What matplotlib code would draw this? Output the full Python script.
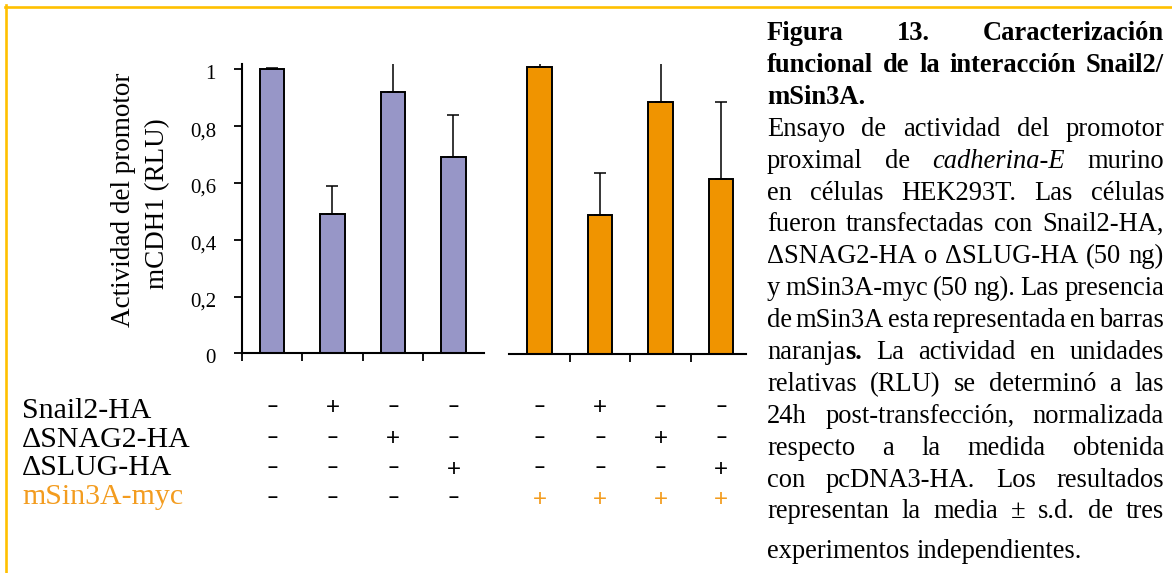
import numpy as np
import matplotlib
matplotlib.use("Agg")
import matplotlib.pyplot as plt
import matplotlib.transforms as mtransforms
from matplotlib.lines import Line2D
from matplotlib.font_manager import FontProperties
from matplotlib.textpath import TextPath

# ---- data ----
rlu_control = [1.0, 0.49, 0.92, 0.69]
err_control = [0.003, 0.10, 0.13, 0.15]
rlu_msin3a = [1.01, 0.49, 0.89, 0.617]
err_msin3a = [0.03, 0.15, 0.15, 0.272]

row_labels = ["Snail2-HA", "\u0394SNAG2-HA", "\u0394SLUG-HA", "mSin3A-myc"]
# one row per construct, 8 columns (4 without / 4 with mSin3A)
signs = [
    "-+--" + "-+--",
    "--+-" + "--+-",
    "---+" + "---+",
    "----" + "++++",
]
yticks = [0, 0.2, 0.4, 0.6, 0.8, 1]
ytick_labels = ["0", "0,2", "0,4", "0,6", "0,8", "1"]
ylabel_lines = ["Actividad del promotor", "mCDH1 (RLU)"]

caption_bold = [
    "Figura 13. Caracterización",
    "funcional de la interacción Snail2/",
    "mSin3A.",
]
# _x_ = italic, #x# = bold
caption_body = [
    "Ensayo de actividad del promotor",
    "proximal de _cadherina-E_ murino",
    "en células HEK293T. Las células",
    "fueron transfectadas con Snail2-HA,",
    "\u0394SNAG2-HA o \u0394SLUG-HA (50 ng)",
    "y mSin3A-myc (50 ng). Las presencia",
    "de mSin3A esta representada en barras",
    "naranja#s.# La actividad en unidades",
    "relativas (RLU) se determinó a las",
    "24h post-transfección, normalizada",
    "respecto a la medida obtenida",
    "con pcDNA3-HA. Los resultados",
    "representan la media ± s.d. de tres",
    "experimentos independientes.",
]

W, H = 1172, 573
LAVENDER = "#9796C7"
ORANGE = "#F09400"
TXT_ORANGE = "#F39C1F"
GOLD = "#FFC000"
SERIF = "Liberation Serif"
SANS = "Liberation Sans"


def px_rect(x0, y0, x1, y1):
    return [x0 / W, 1 - y1 / H, (x1 - x0) / W, (y1 - y0) / H]


fig = plt.figure(figsize=(W / 100, H / 100), dpi=100)

px_per_unit = 284.0
ax1 = fig.add_axes(px_rect(241.7, 64, 483.7, 353.3))
ax2 = fig.add_axes(px_rect(509.3, 64, 746, 354.3))
ax1.set_xlim(0, 4)
ax1.set_ylim(0, (353.3 - 64) / px_per_unit)
ax2.set_xlim(0, (746 - 509.3) / 60.5)
ax2.set_ylim(0, (354.3 - 64) / px_per_unit)

pos = np.arange(4) + 0.5
for ax, vals, errs, col in [(ax1, rlu_control, err_control, LAVENDER),
                            (ax2, rlu_msin3a, err_msin3a, ORANGE)]:
    ax.bar(pos, vals, width=0.41, color=col, edgecolor="black",
           linewidth=1.4, zorder=2)
    ax.errorbar(pos, vals, yerr=[np.zeros(4), errs], fmt="none",
                ecolor="black", elinewidth=1.1, capsize=4.4, capthick=1.1,
                zorder=3)
    for s in ["top", "right"]:
        ax.spines[s].set_visible(False)
    ax.spines["bottom"].set_linewidth(1.5)
    ax.spines["left"].set_linewidth(1.5)
    ax.tick_params(axis="both", direction="out", length=5.5, width=1.3,
                   color="black")

ax1.set_xticks([0, 1, 2, 3])
ax1.set_xticklabels([])
ax1.set_yticks(yticks)
ax1.set_yticklabels(ytick_labels, fontfamily=SERIF, fontsize=15)
ax1.tick_params(axis="y", pad=13)
shift = mtransforms.ScaledTranslation(0, -3 / 100, fig.dpi_scale_trans)
for lab in ax1.get_yticklabels():
    lab.set_transform(lab.get_transform() + shift)

ax2.spines["left"].set_visible(False)
ax2.set_xticks([1, 2, 3])
ax2.set_xticklabels([])
ax2.set_yticks([])

# y label, two centred lines
fig.text(124 / W, 1 - 200 / H, ylabel_lines[0], rotation=90, ha="center",
         va="center", fontfamily=SERIF, fontsize=19.5)
fig.text(158 / W, 1 - 204 / H, ylabel_lines[1], rotation=90, ha="center",
         va="center", fontfamily=SERIF, fontsize=19.5)

# ---- condition table under the bars ----
row_base = [418, 446.7, 475, 503.5]
sign_center = [406, 437, 467.5, 497.5]
for i, lab in enumerate(row_labels):
    c = TXT_ORANGE if lab.startswith("mSin3A") else "black"
    fig.text(22 / W, 1 - row_base[i] / H, lab, ha="left", va="baseline",
             fontfamily=SERIF, fontsize=21.5, color=c)

# "+" drawn as a regular plus, "-" as a short bold dash like the original
sign_glyph = {"+": ("+", FontProperties(family=SANS, size=17.5)),
              "-": ("\u2013", FontProperties(family=SANS, weight="bold", size=13))}
ink_mid = {}
for ch, (g, fp) in sign_glyph.items():
    ext = TextPath((0, 0), g, size=1, prop=fp).get_extents()
    ink_mid[ch] = (ext.y0 + ext.y1) / 2 * fp.get_size_in_points() * 100 / 72.0

for i, row in enumerate(signs):
    for j, ch in enumerate(row):
        ax = ax1 if j < 4 else ax2
        tr = mtransforms.blended_transform_factory(ax.transData, fig.transFigure)
        yb = sign_center[i] + ink_mid[ch]
        c = TXT_ORANGE if (i == 3 and ch == "+") else "black"
        g, fp = sign_glyph[ch]
        fig.text(pos[j % 4], 1 - yb / H, g, transform=tr, ha="center",
                 va="baseline", fontproperties=fp, color=c)

# ---- justified caption ----
cap_size = 19.1
renderer = fig.canvas.get_renderer()


def fprops(style):
    return FontProperties(family=SERIF, size=cap_size,
                          weight="bold" if "b" in style else "normal",
                          style="italic" if "i" in style else "normal")


def text_width(s, style):
    t = fig.text(0, 0, s, fontproperties=fprops(style))
    w = t.get_window_extent(renderer).width
    t.remove()
    return w


def parse_word(word, base):
    runs, cur, style = [], "", base
    for ch in word:
        if ch in "_#":
            if cur:
                runs.append((cur, style))
            cur = ""
            flag = "i" if ch == "_" else "b"
            style = style.replace(flag, "") if flag in style else style + flag
        else:
            cur += ch
    if cur:
        runs.append((cur, style))
    return runs


def draw_line(line, base, yb, x0, x1, last):
    words = [parse_word(w, base) for w in line.split(" ")]
    wid = [[text_width(s, st) for s, st in w] for w in words]
    total = sum(sum(w) for w in wid)
    if last or len(words) == 1:
        gap = text_width("a a", base) - text_width("aa", base)
    else:
        gap = (x1 - x0 - total) / (len(words) - 1)
    x = x0
    for w, ws in zip(words, wid):
        for (s, st), rw in zip(w, ws):
            fig.text(x / W, 1 - yb / H, s, ha="left", va="baseline",
                     fontproperties=fprops(st))
            x += rw
        x += gap


cap_x0, cap_x1 = 767, 1164
all_lines = [(l, "b") for l in caption_bold] + [(l, "") for l in caption_body]
last_idx = {2, len(all_lines) - 1}
for k, (line, base) in enumerate(all_lines):
    yb = 40 + 31.9 * k if k < len(all_lines) - 1 else 558
    draw_line(line, base, yb, cap_x0, cap_x1, k in last_idx)

# ---- frame: top and left gold rules ----
fig.add_artist(Line2D([5 / W, 1], [1 - 6.5 / H, 1 - 6.5 / H],
                      transform=fig.transFigure, color=GOLD, linewidth=1.9))
fig.add_artist(Line2D([6.3 / W, 6.3 / W], [1 - 5 / H, 0],
                      transform=fig.transFigure, color=GOLD, linewidth=1.9))

fig.savefig("out.png", dpi=100)
